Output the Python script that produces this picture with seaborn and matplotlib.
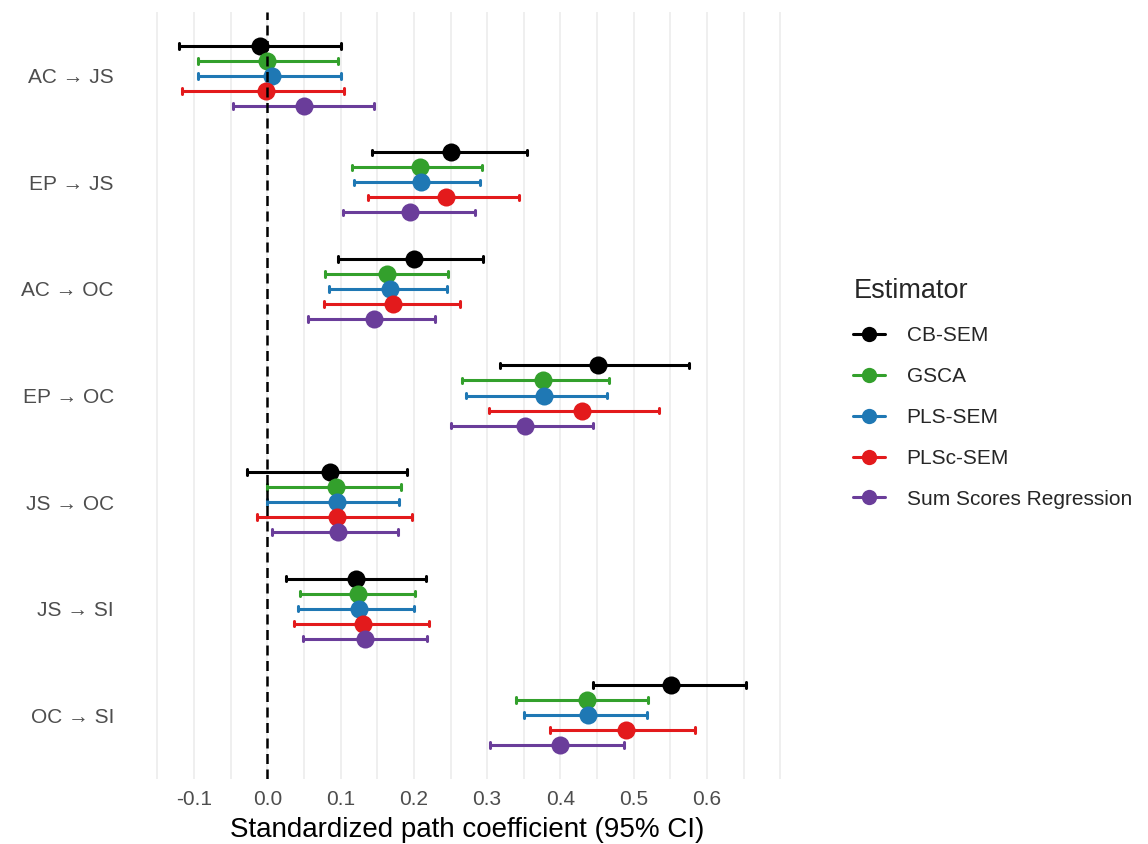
import numpy as np
import pandas as pd
import matplotlib
matplotlib.use("Agg")
import matplotlib.pyplot as plt
import seaborn as sns

paths = ["AC → JS", "EP → JS", "AC → OC", "EP → OC", "JS → OC", "JS → SI", "OC → SI"]
estimators = ["CB-SEM", "GSCA", "PLS-SEM", "PLSc-SEM", "Sum Scores Regression"]
colors = ["#000000", "#33a02c", "#1f78b4", "#e31a1c", "#6a3d9a"]

est_cb = [-0.010, 0.251, 0.200, 0.451, 0.085, 0.121, 0.551]
est_gsca = [-0.001, 0.208, 0.164, 0.376, 0.094, 0.124, 0.436]
est_pls = [0.006, 0.210, 0.168, 0.377, 0.095, 0.125, 0.438]
est_plsc = [-0.002, 0.244, 0.171, 0.429, 0.095, 0.131, 0.489]
est_sum = [0.050, 0.195, 0.146, 0.351, 0.096, 0.134, 0.400]

lo_cb = [-0.120, 0.143, 0.097, 0.317, -0.028, 0.025, 0.445]
lo_gsca = [-0.094, 0.116, 0.079, 0.265, 0.000, 0.044, 0.339]
lo_pls = [-0.094, 0.118, 0.084, 0.271, 0.000, 0.042, 0.350]
lo_plsc = [-0.117, 0.137, 0.077, 0.302, -0.014, 0.037, 0.386]
lo_sum = [-0.047, 0.103, 0.056, 0.251, 0.006, 0.049, 0.304]

hi_cb = [0.100, 0.354, 0.294, 0.575, 0.191, 0.216, 0.653]
hi_gsca = [0.096, 0.293, 0.247, 0.466, 0.182, 0.201, 0.520]
hi_pls = [0.100, 0.290, 0.245, 0.464, 0.180, 0.200, 0.518]
hi_plsc = [0.105, 0.344, 0.263, 0.534, 0.197, 0.221, 0.584]
hi_sum = [0.146, 0.284, 0.229, 0.444, 0.179, 0.218, 0.487]

x_ticks = [-0.1, 0.0, 0.1, 0.2, 0.3, 0.4, 0.5, 0.6]
x_tick_labels = ["-0.1", "0.0", "0.1", "0.2", "0.3", "0.4", "0.5", "0.6"]
x_minor = [-0.15, -0.05, 0.05, 0.15, 0.25, 0.35, 0.45, 0.55, 0.65, 0.70]

ests = [est_cb, est_gsca, est_pls, est_plsc, est_sum]
los = [lo_cb, lo_gsca, lo_pls, lo_plsc, lo_sum]
his = [hi_cb, hi_gsca, hi_pls, hi_plsc, hi_sum]

# long table: three rows per (path, estimator): lower, estimate, upper.
# median -> estimate, 100% percentile interval -> [lower, upper]
rows = []
for e, est_l, lo_l, hi_l in zip(estimators, ests, los, his):
    for p, m, lo, hi in zip(paths, est_l, lo_l, hi_l):
        for v in (lo, m, hi):
            rows.append({"Path": p, "Estimator": e, "value": v})
df = pd.DataFrame(rows)

sns.set_theme(style="white")
plt.rcParams["font.family"] = ["Liberation Sans", "DejaVu Sans"]

fig = plt.figure(figsize=(11.48, 8.44), dpi=100)
ax = fig.add_axes([150 / 1148, 1 - 779 / 844, 634 / 1148, 767 / 844])

sns.pointplot(
    data=df, x="value", y="Path", hue="Estimator",
    order=paths, hue_order=estimators, palette=colors,
    estimator="median", errorbar=("pi", 100),
    dodge=0.564, linestyle="none", markers="o",
    markersize=13, markeredgewidth=0,
    capsize=0.05, err_kws={"linewidth": 2.2},
    ax=ax,
)

ax.axvline(0, color="black", linestyle=(0, (4, 2.2)), linewidth=1.8, zorder=10)

ax.set_xlim(-0.16, 0.705)
ax.set_ylim(6.6, -0.6)
ax.set_xticks(x_ticks)
ax.set_xticklabels(x_tick_labels)
ax.set_xticks(x_minor, minor=True)
ax.grid(axis="x", which="both", color="#ebebeb", linewidth=1.1)
ax.grid(axis="y", visible=False)
ax.set_axisbelow(True)
for s in ax.spines.values():
    s.set_visible(False)
ax.tick_params(axis="both", which="both", length=0)
ax.tick_params(axis="x", labelsize=15, labelcolor="#4d4d4d", pad=8)
ax.tick_params(axis="y", labelsize=15, labelcolor="#4d4d4d", pad=26)
ax.set_ylabel("")
ax.set_xlabel("Standardized path coefficient (95% CI)", fontsize=20, color="black", labelpad=6)

leg = ax.legend(
    title="Estimator", loc="upper left", bbox_to_anchor=(843 / 1148, 1 - 268 / 844),
    bbox_transform=fig.transFigure, frameon=False, fontsize=15, title_fontsize=19.5,
    handlelength=1.5, handletextpad=1.05, labelspacing=1.05, borderpad=0,
)
leg._legend_box.align = "left"
for h in leg.legend_handles:
    h.set_linestyle("-")
    h.set_linewidth(2.2)
    h.set_markersize(11)

fig.savefig("out.png", dpi=100)
